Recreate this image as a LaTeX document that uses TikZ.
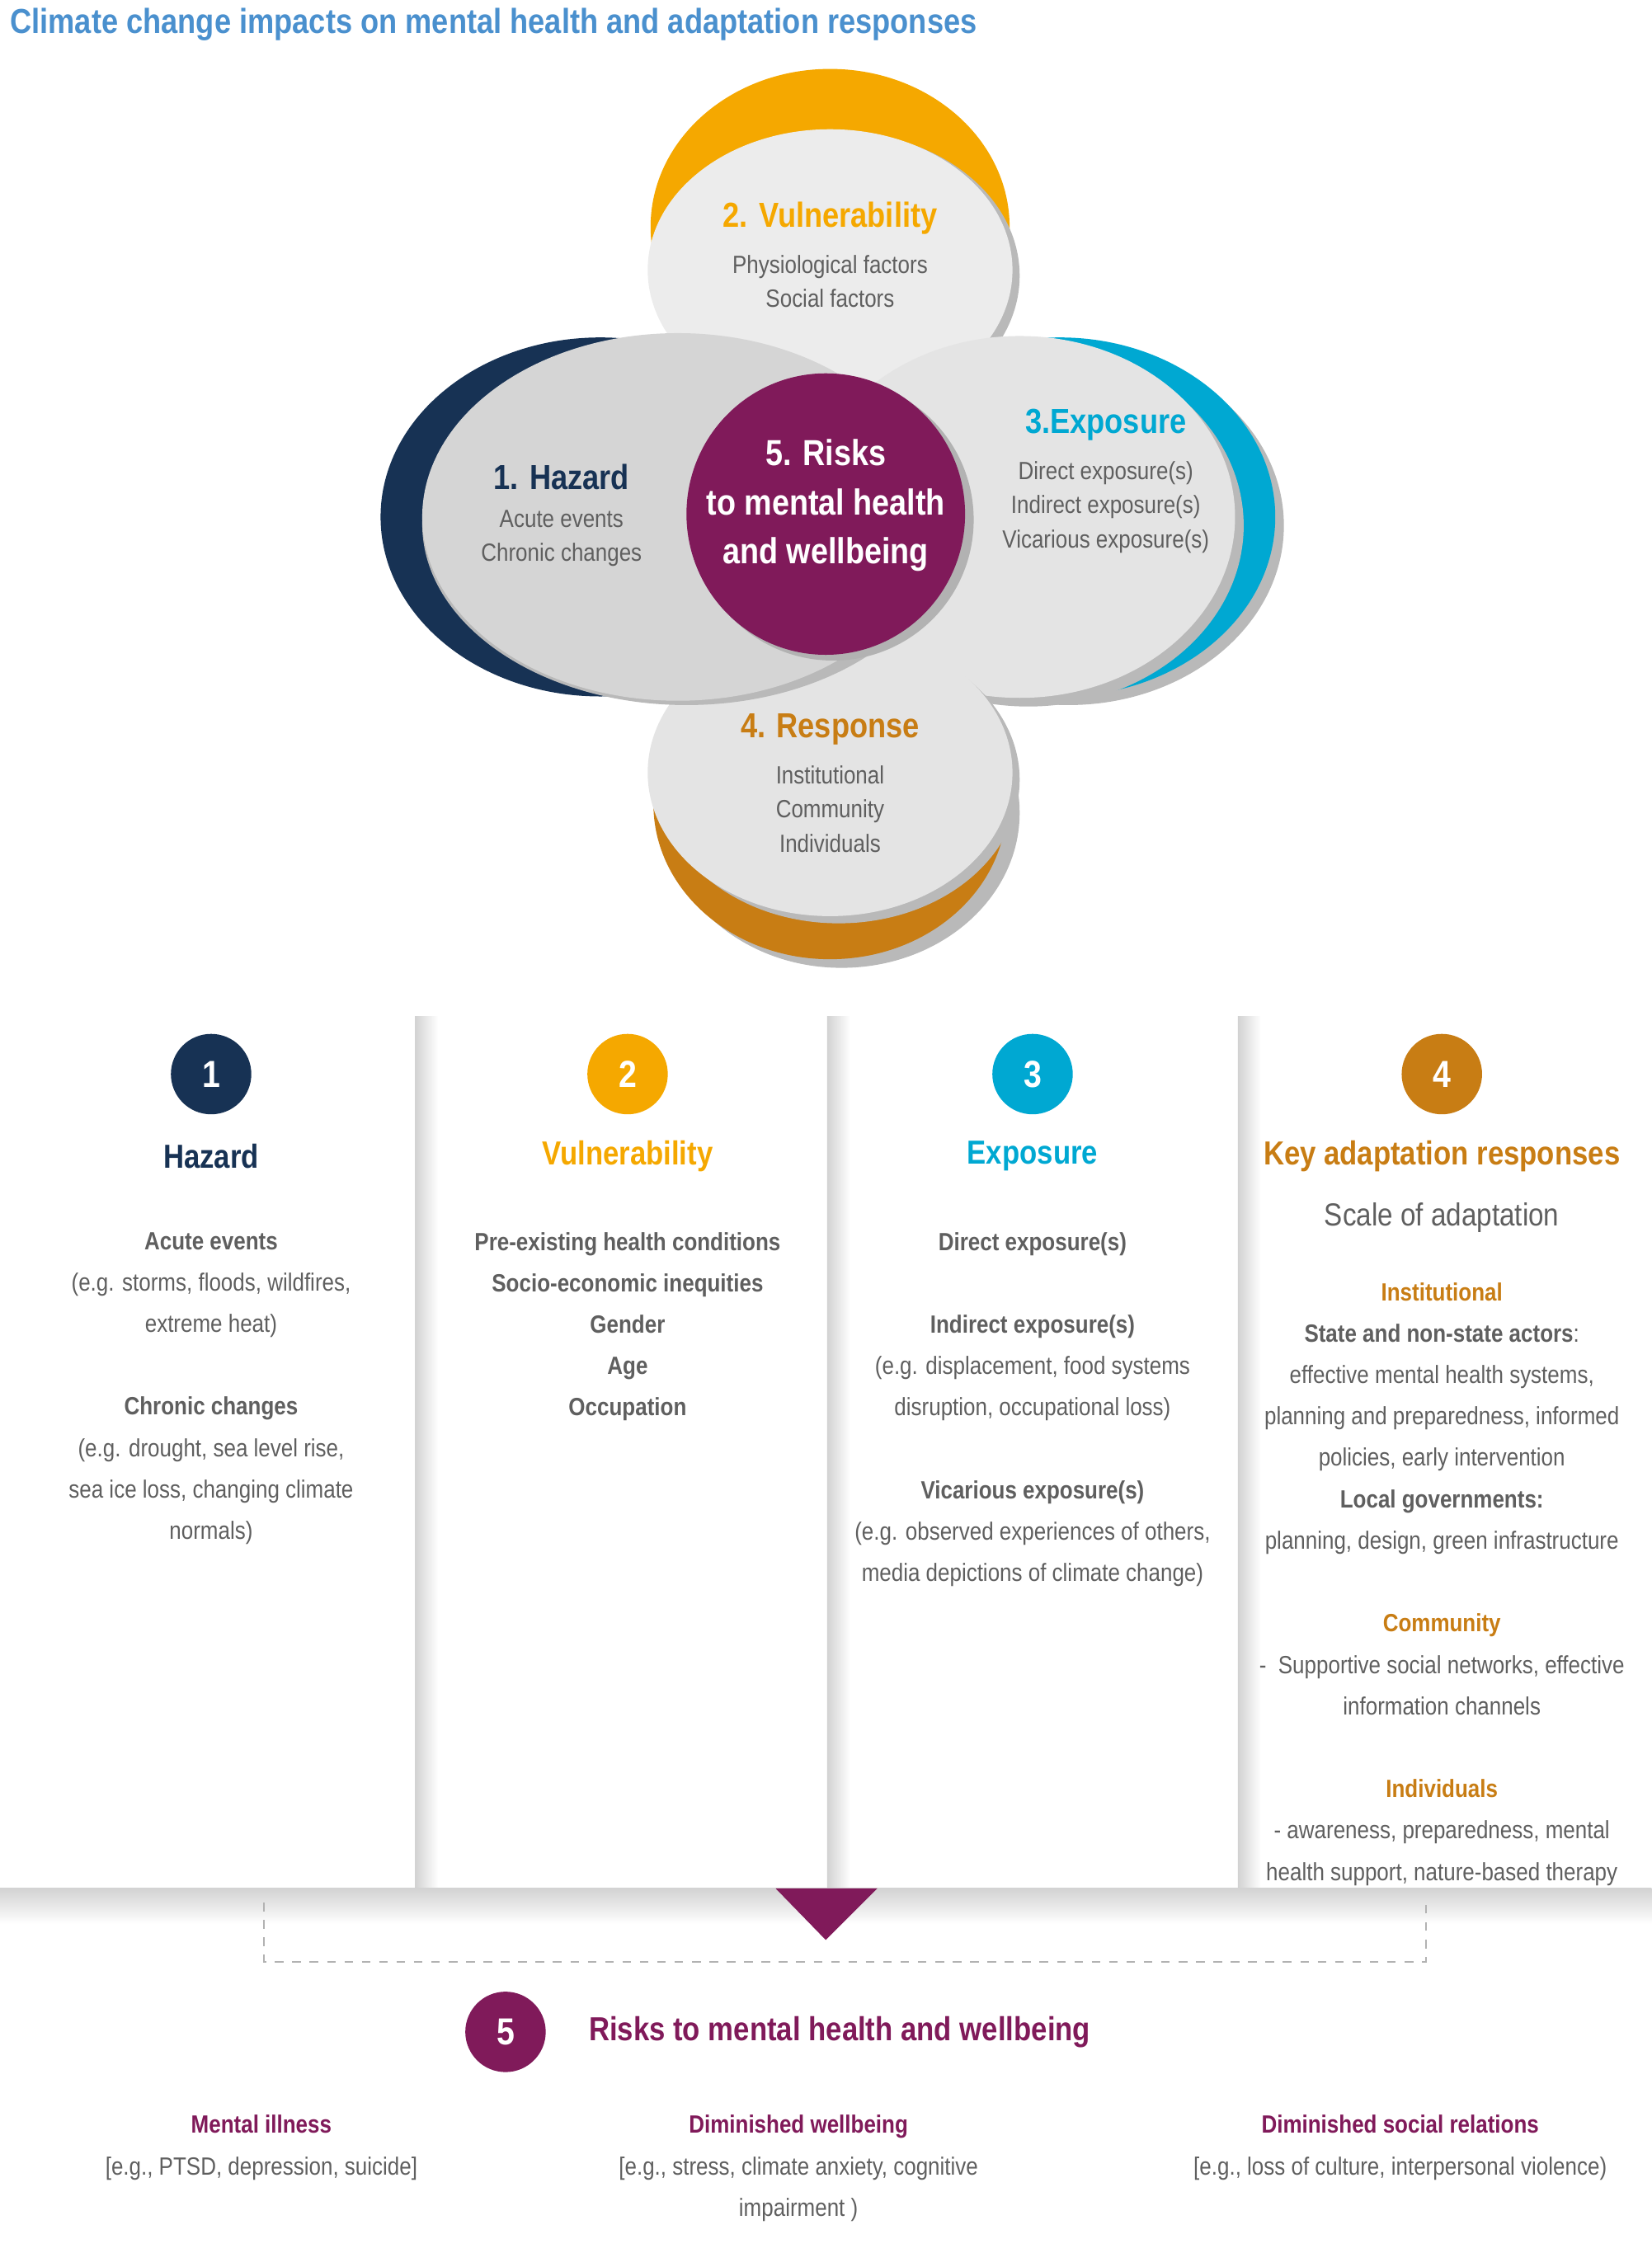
\documentclass[tikz,border=0pt]{standalone}
\usepackage{fontspec}
\setmainfont{Liberation Sans}[FakeStretch=0.86]
\usetikzlibrary{positioning}
\definecolor{hazard}{RGB}{23,50,84}
\definecolor{vulner}{RGB}{245,168,0}
\definecolor{expos}{RGB}{0,168,210}
\definecolor{respon}{RGB}{200,125,20}
\definecolor{risk}{RGB}{128,26,90}
\definecolor{titleblue}{RGB}{74,144,206}
\definecolor{txt}{RGB}{95,95,95}
\definecolor{petal}{RGB}{228,228,228}
\tikzset{
  petal/.style={fill=petal},
  petalshadow/.style={fill=gray!55},
  numcircle/.style={circle, minimum size=56*0.01742cm, inner sep=0pt, text=white, font=\fontsize{13}{15}\selectfont\bfseries},
  colhead/.style={font=\fontsize{11.5}{13}\selectfont\bfseries},
  body/.style={align=center, text=txt, font=\fontsize{8.6}{14.3}\selectfont},
  petalhead/.style={font=\fontsize{12}{14}\selectfont\bfseries},
  petaltext/.style={align=center, text=txt, font=\fontsize{8.6}{11.9}\selectfont},
  divider/.style={left color=gray!35, right color=white, draw=none}
}
\begin{document}
\begin{tikzpicture}[x=0.01742cm,y=-0.01742cm]
\useasboundingbox (0,0) rectangle (1150,1569);
% title
\node[anchor=west, text=titleblue, font=\fontsize{12}{14}\selectfont\bfseries] (title) at (0,17) {Climate change impacts on mental health and adaptation responses};
% petals
\fill[vulner] (578,158) ellipse [x radius=125, y radius=110];
\fill[petalshadow] (584,192) ellipse [x radius=126, y radius=100];
\fill[petal!70!white] (578,188) ellipse [x radius=127, y radius=98];
\fill[petalshadow] (744,366) ellipse [x radius=150, y radius=125];
\fill[expos] (738,360) ellipse [x radius=150, y radius=125];
\fill[petalshadow] (716,366) ellipse [x radius=150, y radius=126];
\fill[petal] (710,360) ellipse [x radius=150, y radius=126];
\fill[petalshadow] (586,566) ellipse [x radius=124, y radius=108];
\fill[respon] (578,560) ellipse [x radius=123, y radius=108];
\fill[petalshadow] (584,543) ellipse [x radius=126, y radius=100];
\fill[petal] (578,538) ellipse [x radius=127, y radius=100];
\fill[hazard] (418,360) ellipse [x radius=153, y radius=125];
\fill[petalshadow] (478,365) ellipse [x radius=184, y radius=126];
\fill[petal!85!gray] (472,360) ellipse [x radius=178, y radius=128];
\fill[gray!60] (580,362) circle [radius=98];
\fill[risk] (575,358) ellipse [x radius=97, y radius=98];
% petal texts
\node[petalhead, text=vulner] (vulhead) at (578,152) {2. Vulnerability};
\node[petaltext, below=0pt of vulhead] (vultext) {Physiological factors\\Social factors};
\node[petalhead, text=hazard] (hazhead) at (391,332) {1. Hazard};
\node[petaltext, below=0pt of hazhead] (haztext) {Acute events\\Chronic changes};
\node[petalhead, text=expos] (exphead) at (770,296) {3.Exposure};
\node[petaltext, below=0pt of exphead] (exptext) {Direct exposure(s)\\Indirect exposure(s)\\Vicarious exposure(s)};
\node[petalhead, text=respon] (reshead) at (578,508) {4. Response};
\node[petaltext, below=0pt of reshead] (restext) {Institutional\\Community\\Individuals};
\node[align=center, text=white, font=\fontsize{12.5}{17}\selectfont\bfseries] (risktext) at (575,352) {5. Risks\\to mental health\\and wellbeing};
% column dividers
\foreach \x in {289,576,862}
  \shade[divider] (\x,708) rectangle (\x+16,1315);
\shade[top color=gray!35, bottom color=white, draw=none] (0,1315) rectangle (1150,1340);
% columns
\node[numcircle, fill=hazard] (c1) at (147,748) {1};
\node[numcircle, fill=vulner] (c2) at (437,748) {2};
\node[numcircle, fill=expos] (c3) at (719,748) {3};
\node[numcircle, fill=respon] (c4) at (1004,748) {4};
\node[colhead, text=hazard] (h1) at (147,805) {Hazard};
\node[colhead, text=vulner] (h2) at (437,805) {Vulnerability};
\node[colhead, text=expos] (h3) at (719,805) {Exposure};
\node[colhead, text=respon] (h4) at (1004,805) {Key adaptation responses};
\node[body, anchor=north] (b1) at (147,851) {\textbf{Acute events}\\(e.g. storms, floods, wildfires,\\extreme heat)\\[14.3pt]\textbf{Chronic changes}\\(e.g. drought, sea level rise,\\sea ice loss, changing climate\\normals)};
\node[body, anchor=north] (b2) at (437,851) {\textbf{Pre-existing health conditions}\\\textbf{Socio-economic inequities}\\\textbf{Gender}\\\textbf{Age}\\\textbf{Occupation}};
\node[body, anchor=north] (b3) at (719,851) {\textbf{Direct exposure(s)}\\[14.3pt]\textbf{Indirect exposure(s)}\\(e.g. displacement, food systems\\disruption, occupational loss)\\[14.3pt]\textbf{Vicarious exposure(s)}\\(e.g. observed experiences of others,\\media depictions of climate change)};
\node[text=txt, font=\fontsize{11}{13}\selectfont] (scale) at (1004,848) {Scale of adaptation};
\node[body, anchor=north] (b4) at (1004,886) {\textcolor{respon}{\textbf{Institutional}}\\\textbf{State and non-state actors}:\\effective mental health systems,\\planning and preparedness, informed\\policies, early intervention\\\textbf{Local governments:}\\planning, design, green infrastructure\\[14.3pt]\textcolor{respon}{\textbf{Community}}\\-\ \ Supportive social networks, effective\\information channels\\[14.3pt]\textcolor{respon}{\textbf{Individuals}}\\- awareness, preparedness, mental\\health support, nature-based therapy};
% arrow and bracket
\fill[risk] (540,1315) -- (611,1315) -- (575,1351) -- cycle;
\coordinate (brl) at (184,1325);
\coordinate (brr) at (993,1325);
\draw[gray!60, dashed, line width=0.6pt] (brl) -- (184,1366) -- (993,1366) -- (brr);
% risks
\node[numcircle, fill=risk] (c5) at (352,1415) {5};
\node[colhead, text=risk, anchor=west] (h5) at (403,1415) {Risks to mental health and wellbeing};
\node[body, anchor=north] (r1) at (182,1466) {\textcolor{risk}{\textbf{Mental illness}}\\{[e.g., PTSD, depression, suicide]}};
\node[body, anchor=north] (r2) at (556,1466) {\textcolor{risk}{\textbf{Diminished wellbeing}}\\{[e.g., stress, climate anxiety, cognitive}\\impairment )};
\node[body, anchor=north] (r3) at (975,1466) {\textcolor{risk}{\textbf{Diminished social relations}}\\{[e.g., loss of culture, interpersonal violence)}};
\end{tikzpicture}
\end{document}
